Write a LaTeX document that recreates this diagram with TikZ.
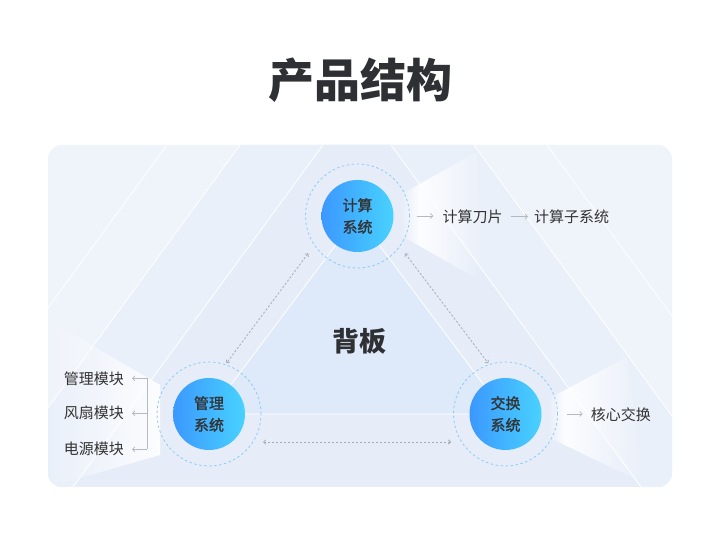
\documentclass[tikz,border=0pt]{standalone}
\usepackage{fontspec}
\setmainfont{Noto Sans CJK SC}
\newfontfamily\cjkmed[FakeBold=1.4]{Noto Sans CJK SC}
\usetikzlibrary{arrows.meta,fadings,calc}
\definecolor{titlegray}{HTML}{2F3033}
\definecolor{labelgray}{HTML}{333333}
\definecolor{panelbg}{HTML}{EFF3FA}
\definecolor{stripa}{HTML}{EAF0FA}
\definecolor{stripb}{HTML}{E6EDF9}
\definecolor{tribg}{HTML}{DEEAF9}
\definecolor{coreL}{HTML}{3C98FF}
\definecolor{coreR}{HTML}{48D2FF}
\definecolor{ringblue}{HTML}{8CCBF5}
\definecolor{arrowgray}{HTML}{B4B8BF}
\definecolor{linkgray}{HTML}{A4ABB6}
\begin{document}
\begin{tikzpicture}[x=1pt,y=1pt,
  core/.style={circle,minimum size=72pt,inner sep=0pt,left color=coreL,right color=coreR,
    align=center,text=labelgray,font=\fontsize{15}{21.7}\selectfont\cjkmed},
  ring/.style={circle,minimum size=104pt,draw=ringblue,line width=0.8pt,dash pattern=on 2.5pt off 2.5pt},
  lbl/.style={inner sep=0pt,text=labelgray,font=\fontsize{15}{18}\selectfont},
  arr/.style={draw=arrowgray,line width=0.7pt,-{Straight Barb[length=2.5pt,width=5pt]}},
  link/.style={draw=linkgray,line width=0.75pt,dash pattern=on 2.2pt off 1.8pt,
    {Straight Barb[length=2.2pt,width=4.4pt]}-{Straight Barb[length=2.2pt,width=4.4pt]}},
  glow/.style={fill=white,fill opacity=0.9,path fading=east},
  glowin/.style={fill=white,fill opacity=0.9,path fading=west}]
\useasboundingbox (0,0) rectangle (720,535);
\fill[white] (0,0) rectangle (720,535);
\node[font=\fontsize{46}{50}\selectfont\bfseries,text=titlegray] (title) at (360,455) {产品结构};
% panel
\fill[panelbg,rounded corners=14pt] (48,48) rectangle (672,390);
\begin{scope}
\clip[rounded corners=14pt] (48,48) rectangle (672,390);
\fill[stripa] (240,390) -- (474,390) -- (724,48) -- (-10,48) -- cycle;
\fill[stripb] (323,390) -- (391,390) -- (641,48) -- (73,48) -- cycle;
\foreach \a in {167,240,323} \draw[white,line width=0.8pt] (\a,390) -- ++(-250,-342);
\foreach \a in {391,474,547} \draw[white,line width=0.8pt] (\a,390) -- ++(250,-342);
\fill[glowin] (400,340) -- (420,351.2) -- (420,288.7) -- (400,300) -- cycle;
\fill[glow] (420,351.2) -- (477,383) -- (483,253) -- (420,288.7) -- cycle;
\fill[glowin] (548,136) -- (565,145) -- (565,89.8) -- (548,98) -- cycle;
\fill[glow] (565,145) -- (627,178) -- (643,52) -- (565,89.8) -- cycle;
\fill[glowin] (160,150) -- (48,215) -- (48,48) -- (160,80) -- cycle;
\end{scope}
% backplane
\fill[tribg] (357.5,319) -- (209,121) -- (505.5,121) -- cycle;
\draw[white,line width=0.8pt] (357.5,319) -- (209,121) -- (505.5,121) -- cycle;
\node[font=\fontsize{27}{30}\selectfont\bfseries,text=titlegray] (board) at (359.5,194) {背板};
% subsystems
\node[ring] (topring) at (357.5,319) {};
\node[ring] (leftring) at (209,121) {};
\node[ring] (rightring) at (505.5,121) {};
\node[core] (top) at (357.5,319) {计算\\系统};
\node[core] (left) at (209,121) {管理\\系统};
\node[core] (right) at (505.5,121) {交换\\系统};
% links
\coordinate (tl) at ($(top)+(-49.2,-37.3)$);
\coordinate (lt) at ($(left)+(17.5,50.9)$);
\coordinate (tr) at ($(top)+(47.5,-37.3)$);
\coordinate (rt) at ($(right)+(-17.2,50.7)$);
\coordinate (lr) at ($(left)+(54,-28)$);
\coordinate (rl) at ($(right)+(-54.5,-28)$);
\draw[link] (tl) -- (lt);
\draw[link] (tr) -- (rt);
\draw[link] (lr) -- (rl);
% labels
\node[lbl] (blade) at (472.5,318.3) {计算刀片};
\node[lbl] (sub) at (571.7,318.3) {计算子系统};
\node[lbl] (csw) at (620.8,120) {核心交换};
\node[lbl] (m1) at (93.8,156.7) {管理模块};
\node[lbl] (m2) at (93.8,121.7) {风扇模块};
\node[lbl] (m3) at (93.8,85.7) {电源模块};
\draw[arr,shorten <=7pt,shorten >=9pt] (topring.east) -- (topring.east -| blade.west);
\draw[arr,shorten <=8pt,shorten >=6pt] (blade.east) -- (sub.west);
\draw[arr,shorten <=9pt,shorten >=8pt] (rightring.east) -- (rightring.east -| csw.west);
\draw[draw=arrowgray,line width=0.7pt] ([xshift=23pt]m1.east) -- ([xshift=23pt]m3.east);
\foreach \m in {m1,m2,m3} \draw[arr,shorten >=8pt] ([xshift=23pt]\m.east) -- (\m.east);
\end{tikzpicture}
\end{document}
